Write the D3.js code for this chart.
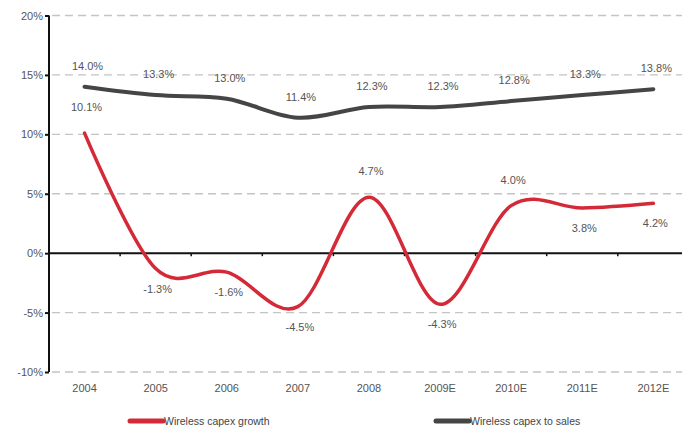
<!DOCTYPE html>
<html>
<head>
<meta charset="utf-8">
<script src="https://cdn.jsdelivr.net/npm/d3@7"></script>
<style>
  html, body { margin: 0; padding: 0; background: #fff; }
  svg { display: block; font-family: "Liberation Sans", "DejaVu Sans", sans-serif; }
</style>
</head>
<body>
<svg id="chart" width="682" height="431"></svg>
<script>
// Wireless capex: annual growth and capex-to-sales ratio (%)
const years = ["2004", "2005", "2006", "2007", "2008", "2009E", "2010E", "2011E", "2012E"];
const capexGrowth = [10.1, -1.3, -1.6, -4.5, 4.7, -4.3, 4.0, 3.8, 4.2];
const capexToSales = [14.0, 13.3, 13.0, 11.4, 12.3, 12.3, 12.8, 13.3, 13.8];
const growthLabelSide = ["above", "below", "below", "below", "above", "below", "above", "below", "below"];
const yTicks = [20, 15, 10, 5, 0, -5, -10];
const seriesNames = ["Wireless capex growth", "Wireless capex to sales"];

const W = 682, H = 431;
const svg = d3.select("#chart");
const plotLeft = 49, plotTop = 15.5, plotBottom = 372;

const x = d3.scaleBand().domain(years).range([plotLeft, plotLeft + 9 * 71.1]);
const y = d3.scaleLinear().domain([-10, 20]).range([plotBottom, plotTop]);
const cx = d => x(d) + x.bandwidth() / 2;

const red = "#d42a38", dark = "#454545", txt = "#555";

// dashed gridlines
svg.append("g").selectAll("line").data(yTicks.filter(t => t !== 0)).join("line")
  .attr("x1", plotLeft + 3).attr("x2", W)
  .attr("y1", d => y(d)).attr("y2", d => y(d))
  .attr("stroke", "#c4c4c4").attr("stroke-width", 1.3)
  .attr("stroke-dasharray", "8,5");

// y axis
const yAxis = d3.axisLeft(y).tickValues(yTicks).tickSize(4).tickFormat(d => d + "%");
const gy = svg.append("g").attr("transform", `translate(${plotLeft},0)`).call(yAxis);
gy.select(".domain").attr("stroke", "#111").attr("stroke-width", 2).attr("d", `M0,${plotTop}V${plotBottom}`);
gy.selectAll(".tick line").attr("stroke", "#111").attr("stroke-width", 2);
gy.selectAll(".tick text").attr("fill", txt).attr("font-size", 11).attr("x", -6)
  .attr("font-family", "'Liberation Sans', sans-serif");

// zero baseline with category ticks
const xAxis = d3.axisBottom(x).tickSize(0).tickFormat(d => d);
const gx = svg.append("g").attr("transform", `translate(0,${y(0)})`);
gx.append("line").attr("x1", plotLeft).attr("x2", W).attr("y1", 0).attr("y2", 0)
  .attr("stroke", "#111").attr("stroke-width", 2);
gx.selectAll("line.cat").data(years.slice(1)).join("line").attr("class", "cat")
  .attr("x1", d => x(d)).attr("x2", d => x(d)).attr("y1", 0).attr("y2", 3)
  .attr("stroke", "#111").attr("stroke-width", 1.5);

// category labels along the bottom
svg.append("g").attr("transform", `translate(0,${plotBottom})`).call(xAxis)
  .call(g => g.select(".domain").remove())
  .call(g => g.selectAll(".tick text").attr("fill", txt).attr("font-size", 11).attr("dy", "1.55em")
    .attr("font-family", "'Liberation Sans', sans-serif"));

// smoothed lines (uniform Catmull-Rom through every point)
const line = d3.line().x((d, i) => cx(years[i])).y(d => y(d)).curve(d3.curveCatmullRom.alpha(0));

svg.append("path").datum(capexToSales).attr("d", line)
  .attr("fill", "none").attr("stroke", dark).attr("stroke-width", 4).attr("stroke-linecap", "round");
svg.append("path").datum(capexGrowth).attr("d", line)
  .attr("fill", "none").attr("stroke", red).attr("stroke-width", 3.5).attr("stroke-linecap", "round");

const fmt = d => d.toFixed(1) + "%";

// value labels
svg.append("g").selectAll("text").data(capexToSales).join("text")
  .attr("x", (d, i) => cx(years[i]) + 3).attr("y", d => y(d) - 17)
  .attr("text-anchor", "middle").attr("font-size", 11).attr("fill", txt).text(fmt);

svg.append("g").selectAll("text").data(capexGrowth).join("text")
  .attr("x", (d, i) => cx(years[i]) + 2)
  .attr("y", (d, i) => growthLabelSide[i] === "above" ? y(d) - 22 : y(d) + 24)
  .attr("text-anchor", "middle").attr("font-size", 11).attr("fill", txt).text(fmt);

// legend
const legend = svg.append("g").attr("transform", `translate(0,421)`);
const items = [
  { name: seriesNames[0], color: red, x0: 130 },
  { name: seriesNames[1], color: dark, x0: 436 }
];
items.forEach(it => {
  legend.append("line").attr("x1", it.x0).attr("x2", it.x0 + 33).attr("y1", 0).attr("y2", 0)
    .attr("stroke", it.color).attr("stroke-width", 5).attr("stroke-linecap", "round");
  legend.append("text").attr("x", it.x0 + 34).attr("y", 4).attr("font-size", 10.5)
    .attr("fill", "#444").text(it.name);
});
</script>
</body>
</html>
